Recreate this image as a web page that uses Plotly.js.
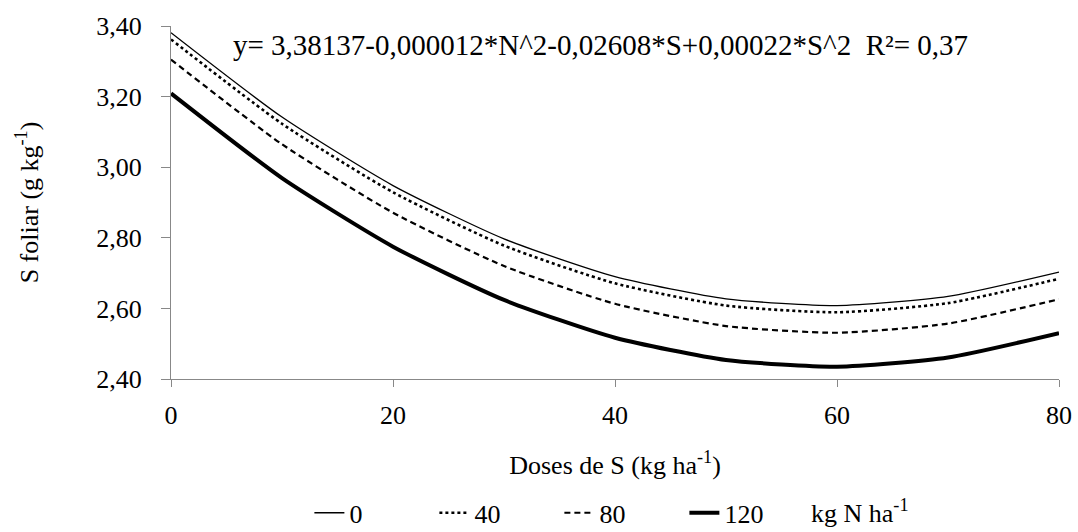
<!DOCTYPE html>
<html>
<head>
<meta charset="utf-8">
<script src="https://cdn.plot.ly/plotly-3.0.1.min.js"></script>
<style>
html,body{margin:0;padding:0;background:#fff;}
#chart{width:1078px;height:532px;}
</style>
</head>
<body>
<div id="chart"></div>
<script>
const dosesS = [0, 10, 20, 30, 40, 50, 60, 70, 80];
const n0   = [3.381, 3.142, 2.948, 2.797, 2.690, 2.627, 2.608, 2.634, 2.703];
const n40  = [3.362, 3.123, 2.929, 2.778, 2.671, 2.608, 2.589, 2.615, 2.684];
const n80  = [3.305, 3.065, 2.871, 2.720, 2.613, 2.550, 2.531, 2.557, 2.626];
const n120 = [3.209, 2.969, 2.775, 2.624, 2.517, 2.454, 2.435, 2.461, 2.530];
const seriesNames = ['0', '40', '80', '120'];
const xTicks = [0, 20, 40, 60, 80];
const yTicks = [2.40, 2.60, 2.80, 3.00, 3.20, 3.40];
const yTickLabels = ['2,40', '2,60', '2,80', '3,00', '3,20', '3,40'];

function F(sz) { return {family: 'Liberation Serif', size: sz || 26}; }
const styles = [
  {width: 1.3, dash: 'solid'},
  {width: 2.6, dash: 'dot'},
  {width: 2.2, dash: '6px,4px'},
  {width: 4, dash: 'solid'}
];
const data = [n0, n40, n80, n120].map((ys, i) => ({
  x: dosesS, y: ys, name: seriesNames[i], type: 'scatter', mode: 'lines',
  line: {color: '#000', width: styles[i].width, dash: styles[i].dash, shape: 'spline', smoothing: 0.6}
}));

const layout = {
  width: 1078, height: 532,
  margin: {l: 171, r: 19, t: 26, b: 153},
  paper_bgcolor: '#fff', plot_bgcolor: '#fff',
  font: {family: 'Liberation Serif', size: 26, color: '#000'},
  showlegend: true,
  legend: {orientation: 'h', xref: 'container', yref: 'container', x: 0.287, xanchor: 'left',
           y: 0.036, yanchor: 'middle', font: F(26), itemwidth: 30, entrywidth: 80,
           tracegroupgap: 0, bgcolor: 'rgba(0,0,0,0)'},
  xaxis: {range: [0, 80], tickvals: xTicks, ticktext: xTicks.map(String),
          showgrid: false, zeroline: false, showline: true, linecolor: '#888', linewidth: 1,
          ticks: 'outside', ticklen: 7, tickcolor: '#888', tickfont: F(), ticklabelstandoff: 6,
          title: {text: 'Doses de S (kg ha<sup>-1</sup>)', font: F(), standoff: 26}},
  yaxis: {range: [2.40, 3.40], tickvals: yTicks, ticktext: yTickLabels,
          showgrid: false, zeroline: false, showline: true, linecolor: '#888', linewidth: 1,
          ticks: 'outside', ticklen: 9, tickcolor: '#888', tickfont: F(), ticklabelstandoff: 14,
          title: {text: 'S foliar (g kg<sup>-1</sup>)', font: F(), standoff: 50}},
  annotations: [
    {xref: 'paper', yref: 'paper', x: 0.068, y: 0.946, xanchor: 'left', yanchor: 'middle',
     showarrow: false, font: F(29),
     text: 'y= 3,38137-0,000012*N^2-0,02608*S+0,00022*S^2  R²= 0,37'},
    {xref: 'paper', yref: 'paper', x: 0.718, y: -0.374, xanchor: 'left', yanchor: 'middle',
     showarrow: false, font: F(26), text: 'kg N ha<sup>-1</sup>'}
  ]
};
Plotly.newPlot('chart', data, layout, {displayModeBar: false});
</script>
</body>
</html>
